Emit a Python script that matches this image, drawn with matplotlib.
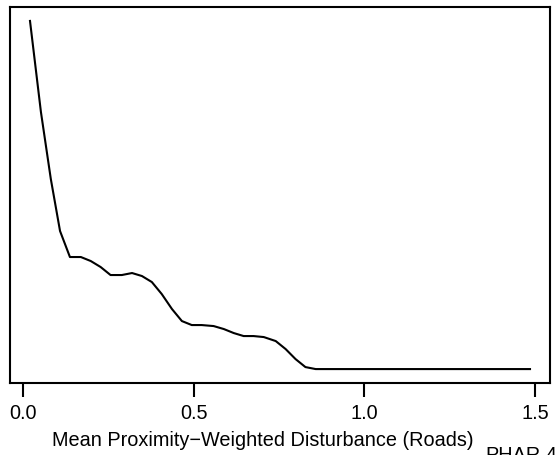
import matplotlib
matplotlib.use("Agg")
import matplotlib.pyplot as plt

# partial dependence style curve
disturbance = [0.020, 0.052, 0.081, 0.108, 0.137, 0.169, 0.198, 0.227, 0.256,
               0.289, 0.319, 0.348, 0.377, 0.406, 0.436, 0.465, 0.494, 0.523,
               0.558, 0.588, 0.617, 0.646, 0.675, 0.705, 0.740, 0.769, 0.798,
               0.827, 0.857, 1.485]
response = [3.48, 2.57, 1.90, 1.38, 1.12, 1.12, 1.08, 1.02, 0.94,
            0.94, 0.96, 0.93, 0.87, 0.75, 0.60, 0.48, 0.44, 0.44,
            0.43, 0.40, 0.36, 0.33, 0.33, 0.32, 0.28, 0.20, 0.10,
            0.02, 0.00, 0.00]
xticks = [0.0, 0.5, 1.0, 1.5]
xtick_labels = ["0.0", "0.5", "1.0", "1.5"]

plt.rcParams['font.family'] = ['Liberation Sans', 'DejaVu Sans']

W, H = 559, 455
fig = plt.figure(figsize=(W / 100, H / 100), dpi=100)
ax = fig.add_axes([10 / W, 1 - 383 / H, 540 / W, 376 / H])

ax.plot(disturbance, response, color='black', linewidth=1.5)

# R style 4% padding
xr = max(disturbance) - min(disturbance)
yr = max(response) - min(response)
ax.set_xlim(min(disturbance) - 0.04 * xr, max(disturbance) + 0.04 * xr)
ax.set_ylim(min(response) - 0.04 * yr, max(response) + 0.04 * yr)

ax.set_xticks(xticks)
ax.set_xticklabels(xtick_labels, fontsize=14.3)
ax.tick_params(axis='x', length=10, width=1.5, pad=5, direction='out')
ax.set_yticks([])
for s in ax.spines.values():
    s.set_linewidth(1.5)

fig.text(263 / W, 1 - 440 / H, "Mean Proximity\u2212Weighted Disturbance (Roads)",
         ha='center', va='center', fontsize=14.3)
fig.text(485 / W, 1 - 446 / H, "PHAR.4", ha='left', va='top', fontsize=14.3)

fig.savefig("out.png", dpi=100)
